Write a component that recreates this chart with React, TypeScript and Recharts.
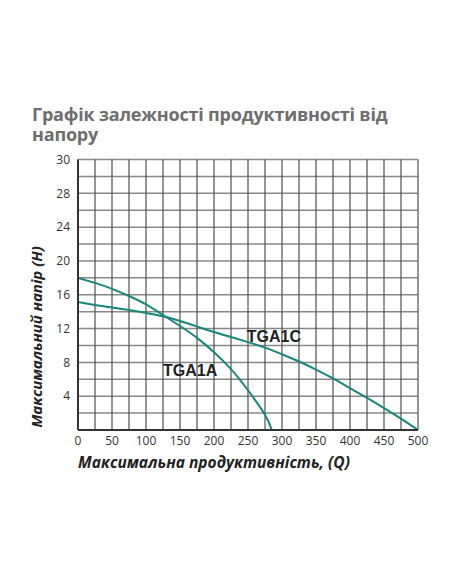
import React from 'react';
import { LineChart, Line, XAxis, YAxis, CartesianGrid, ReferenceDot } from 'recharts';

// Pump curves: flow Q vs head H
const tga1aQ = [0, 25, 50, 75, 100, 125, 150, 175, 200, 225, 250, 275, 285];
const tga1aH = [18, 17.4, 16.7, 15.85, 14.85, 13.6, 12.3, 10.9, 9.2, 7.2, 4.7, 1.8, 0];
const tga1cQ = [0, 25, 50, 75, 100, 125, 150, 175, 200, 225, 250, 275, 300, 325, 350, 375, 400, 425, 450, 475, 500];
const tga1cH = [15.15, 14.8, 14.5, 14.2, 13.85, 13.45, 12.9, 12.25, 11.6, 11.0, 10.4, 9.75, 8.95, 8.1, 7.15, 6.1, 4.95, 3.8, 2.6, 1.35, 0];

const seriesNames = ['TGA1A', 'TGA1C'];
const labelQ = [165, 288];
const labelH = [7.0, 11.1];

const xTicks = [0, 50, 100, 150, 200, 250, 300, 350, 400, 450, 500];
const xGrid = [0, 25, 50, 75, 100, 125, 150, 175, 200, 225, 250, 275, 300, 325, 350, 375, 400, 425, 450, 475, 500];
const yTicks = [4, 8, 12, 16, 20, 24, 28, 32];
const yTickLabels = ['4', '8', '12', '16', '20', '24', '28', '30'];
const yGrid = [0, 2, 4, 6, 8, 10, 12, 14, 16, 18, 20, 22, 24, 26, 28, 30, 32];

const title = 'Графік залежності продуктивності від напору';
const xTitle = 'Максимальна продуктивність, (Q)';
const yTitle = 'Максимальний напір (H)';

const dataA = tga1aQ.map((q, i) => ({ q, h: tga1aH[i] }));
const dataC = tga1cQ.map((q, i) => ({ q, h: tga1cH[i] }));

const curveColor = '#17877c';
const tickStyle = { fontFamily: '"Open Sans", sans-serif', fontSize: 12, fill: '#333' };

const CurveLabel = (text: string) => (p: any) => (
  <text
    x={p.cx}
    y={p.cy}
    textAnchor="middle"
    dominantBaseline="central"
    fontFamily='"Liberation Sans Narrow", "Liberation Sans", sans-serif'
    fontWeight="bold"
    fontSize={16}
    fill="#222"
  >
    {text}
  </text>
);

export default function App() {
  return (
    <div style={{ position: 'relative', width: 436, height: 560 }}>
      <div
        style={{
          position: 'absolute',
          left: 24,
          top: 96,
          width: 400,
          fontFamily: '"Open Sans", sans-serif',
          fontWeight: 700,
          fontSize: 18,
          letterSpacing: -0.2,
          lineHeight: '20px',
          color: '#6e6e6e',
        }}
      >
        {title}
      </div>
      <LineChart
        width={436}
        height={560}
        margin={{ top: 151.5, right: 26, bottom: 108, left: 0 }}
        style={{ position: 'absolute', left: 0, top: 0 }}
      >
        <CartesianGrid
          horizontal={true}
          vertical={false}
          horizontalValues={yGrid}
          stroke="#888"
          strokeWidth={1.5}
        />
        <CartesianGrid
          horizontal={false}
          vertical={true}
          verticalValues={xGrid}
          stroke="#505050"
          strokeWidth={1.2}
        />
        <XAxis
          type="number"
          dataKey="q"
          domain={[0, 500]}
          ticks={xTicks}
          allowDataOverflow
          tickLine={false}
          tickSize={4}
          tickMargin={2}
          height={30}
          axisLine={{ stroke: '#333', strokeWidth: 2 }}
          tick={tickStyle}
          interval={0}
        />
        <YAxis
          type="number"
          dataKey="h"
          domain={[0, 32]}
          ticks={yTicks}
          allowDataOverflow
          tickLine={false}
          tickSize={4}
          tickMargin={4}
          width={70}
          axisLine={{ stroke: '#333', strokeWidth: 2 }}
          tick={tickStyle}
          interval={0}
          tickFormatter={(v: number) => yTickLabels[yTicks.indexOf(v)] ?? ''}
        />
        <Line
          data={dataA}
          dataKey="h"
          type="natural"
          stroke={curveColor}
          strokeWidth={2}
          dot={false}
          isAnimationActive={false}
        />
        <Line
          data={dataC}
          dataKey="h"
          type="natural"
          stroke={curveColor}
          strokeWidth={2}
          dot={false}
          isAnimationActive={false}
        />
        {seriesNames.map((n, i) => (
          <ReferenceDot key={n} x={labelQ[i]} y={labelH[i]} r={0} shape={CurveLabel(n)} />
        ))}
      </LineChart>
      <div
        style={{
          position: 'absolute',
          left: 206,
          top: 454,
          transform: 'translate(-50%, -50%)',
          whiteSpace: 'nowrap',
          fontFamily: '"Open Sans", sans-serif',
          fontWeight: 700,
          fontStyle: 'italic',
          fontSize: 15.5,
          color: '#222',
        }}
      >
        {xTitle}
      </div>
      <div
        style={{
          position: 'absolute',
          left: 28,
          top: 329,
          transform: 'translate(-50%, -50%) rotate(-90deg)',
          whiteSpace: 'nowrap',
          fontFamily: '"Open Sans", sans-serif',
          fontWeight: 700,
          fontStyle: 'italic',
          fontSize: 15,
          color: '#222',
        }}
      >
        {yTitle}
      </div>
    </div>
  );
}
